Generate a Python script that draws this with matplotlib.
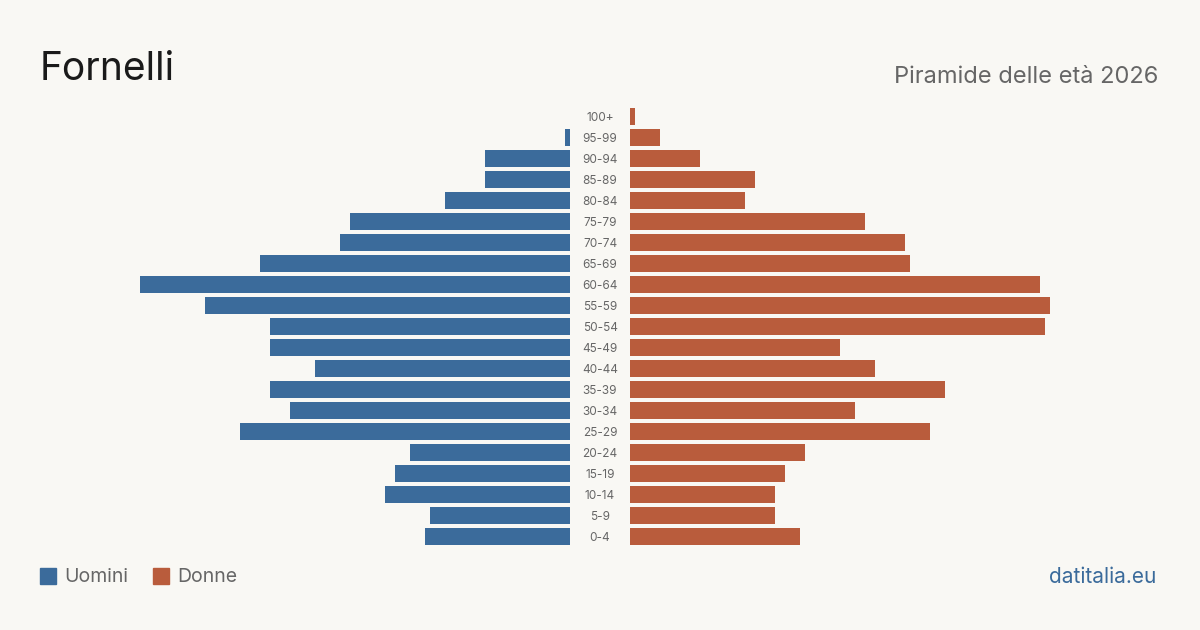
import matplotlib
matplotlib.use("Agg")
import matplotlib.pyplot as plt
from matplotlib.patches import Rectangle

age_groups = ["0-4", "5-9", "10-14", "15-19", "20-24", "25-29", "30-34", "35-39",
              "40-44", "45-49", "50-54", "55-59", "60-64", "65-69", "70-74", "75-79",
              "80-84", "85-89", "90-94", "95-99", "100+"]
men = [29, 28, 37, 35, 32, 66, 56, 60, 51, 60, 60, 73, 86, 62, 46, 44, 25, 17, 17, 1, 0]
women = [34, 29, 29, 31, 35, 60, 45, 63, 49, 42, 83, 84, 82, 56, 55, 47, 23, 25, 14, 6, 1]

title = "Fornelli"
subtitle = "Piramide delle età 2026"
legend_labels = ["Uomini", "Donne"]
source = "datitalia.eu"

BG = "#f9f8f4"
BLUE = "#3b6b9b"
ORANGE = "#b95c3c"
GRAY = "#666666"
FONT = ["Inter", "DejaVu Sans"]
plt.rcParams["font.family"] = FONT

W, H = 1200, 630
fig = plt.figure(figsize=(W / 100, H / 100), dpi=100, facecolor=BG)

vmax = max(max(men), max(women))
y_top, y_bot = 106, 547
bottom = (H - y_bot) / H
height = (y_bot - y_top) / H

axL = fig.add_axes([140 / W, bottom, 430 / W, height])
axR = fig.add_axes([630 / W, bottom, 430 / W, height])
ypos = list(range(len(age_groups)))
bh = 17 / 21
axL.barh(ypos, men, height=bh, color=BLUE)
axR.barh(ypos, women, height=bh, color=ORANGE)
axL.set_xlim(vmax, 0)
axR.set_xlim(0, vmax)
for ax in (axL, axR):
    ax.set_ylim(-0.5, len(age_groups) - 0.5)
    ax.axis("off")
    ax.set_facecolor("none")

# center labels
axC = fig.add_axes([570 / W, bottom, 60 / W, height])
axC.set_xlim(0, 1)
axC.set_ylim(-0.5, len(age_groups) - 0.5)
axC.axis("off")
for i, lab in enumerate(age_groups):
    axC.text(0.5, i - 0.07, lab, ha="center", va="center", fontsize=8.5, color=GRAY)

fig.text(40 / W, 1 - 69 / H, title, fontsize=28, color="#1a1a1a", ha="left", va="center")
fig.text(1158 / W, 1 - 77 / H, subtitle, fontsize=17, color=GRAY, ha="right", va="center")

# legend
fig.patches.append(Rectangle((40 / W, 1 - 584 / H), 16 / W, 16 / H, transform=fig.transFigure,
                             color=BLUE, figure=fig))
fig.text(64 / W, 1 - 577 / H, legend_labels[0], fontsize=14, color=GRAY, ha="left", va="center")
fig.patches.append(Rectangle((153 / W, 1 - 584 / H), 16 / W, 16 / H, transform=fig.transFigure,
                             color=ORANGE, figure=fig))
fig.text(177 / W, 1 - 577 / H, legend_labels[1], fontsize=14, color=GRAY, ha="left", va="center")

fig.text(1156 / W, 1 - 577 / H, source, fontsize=15, color=BLUE, ha="right", va="center")

fig.savefig("out.png", dpi=100, facecolor=BG)
